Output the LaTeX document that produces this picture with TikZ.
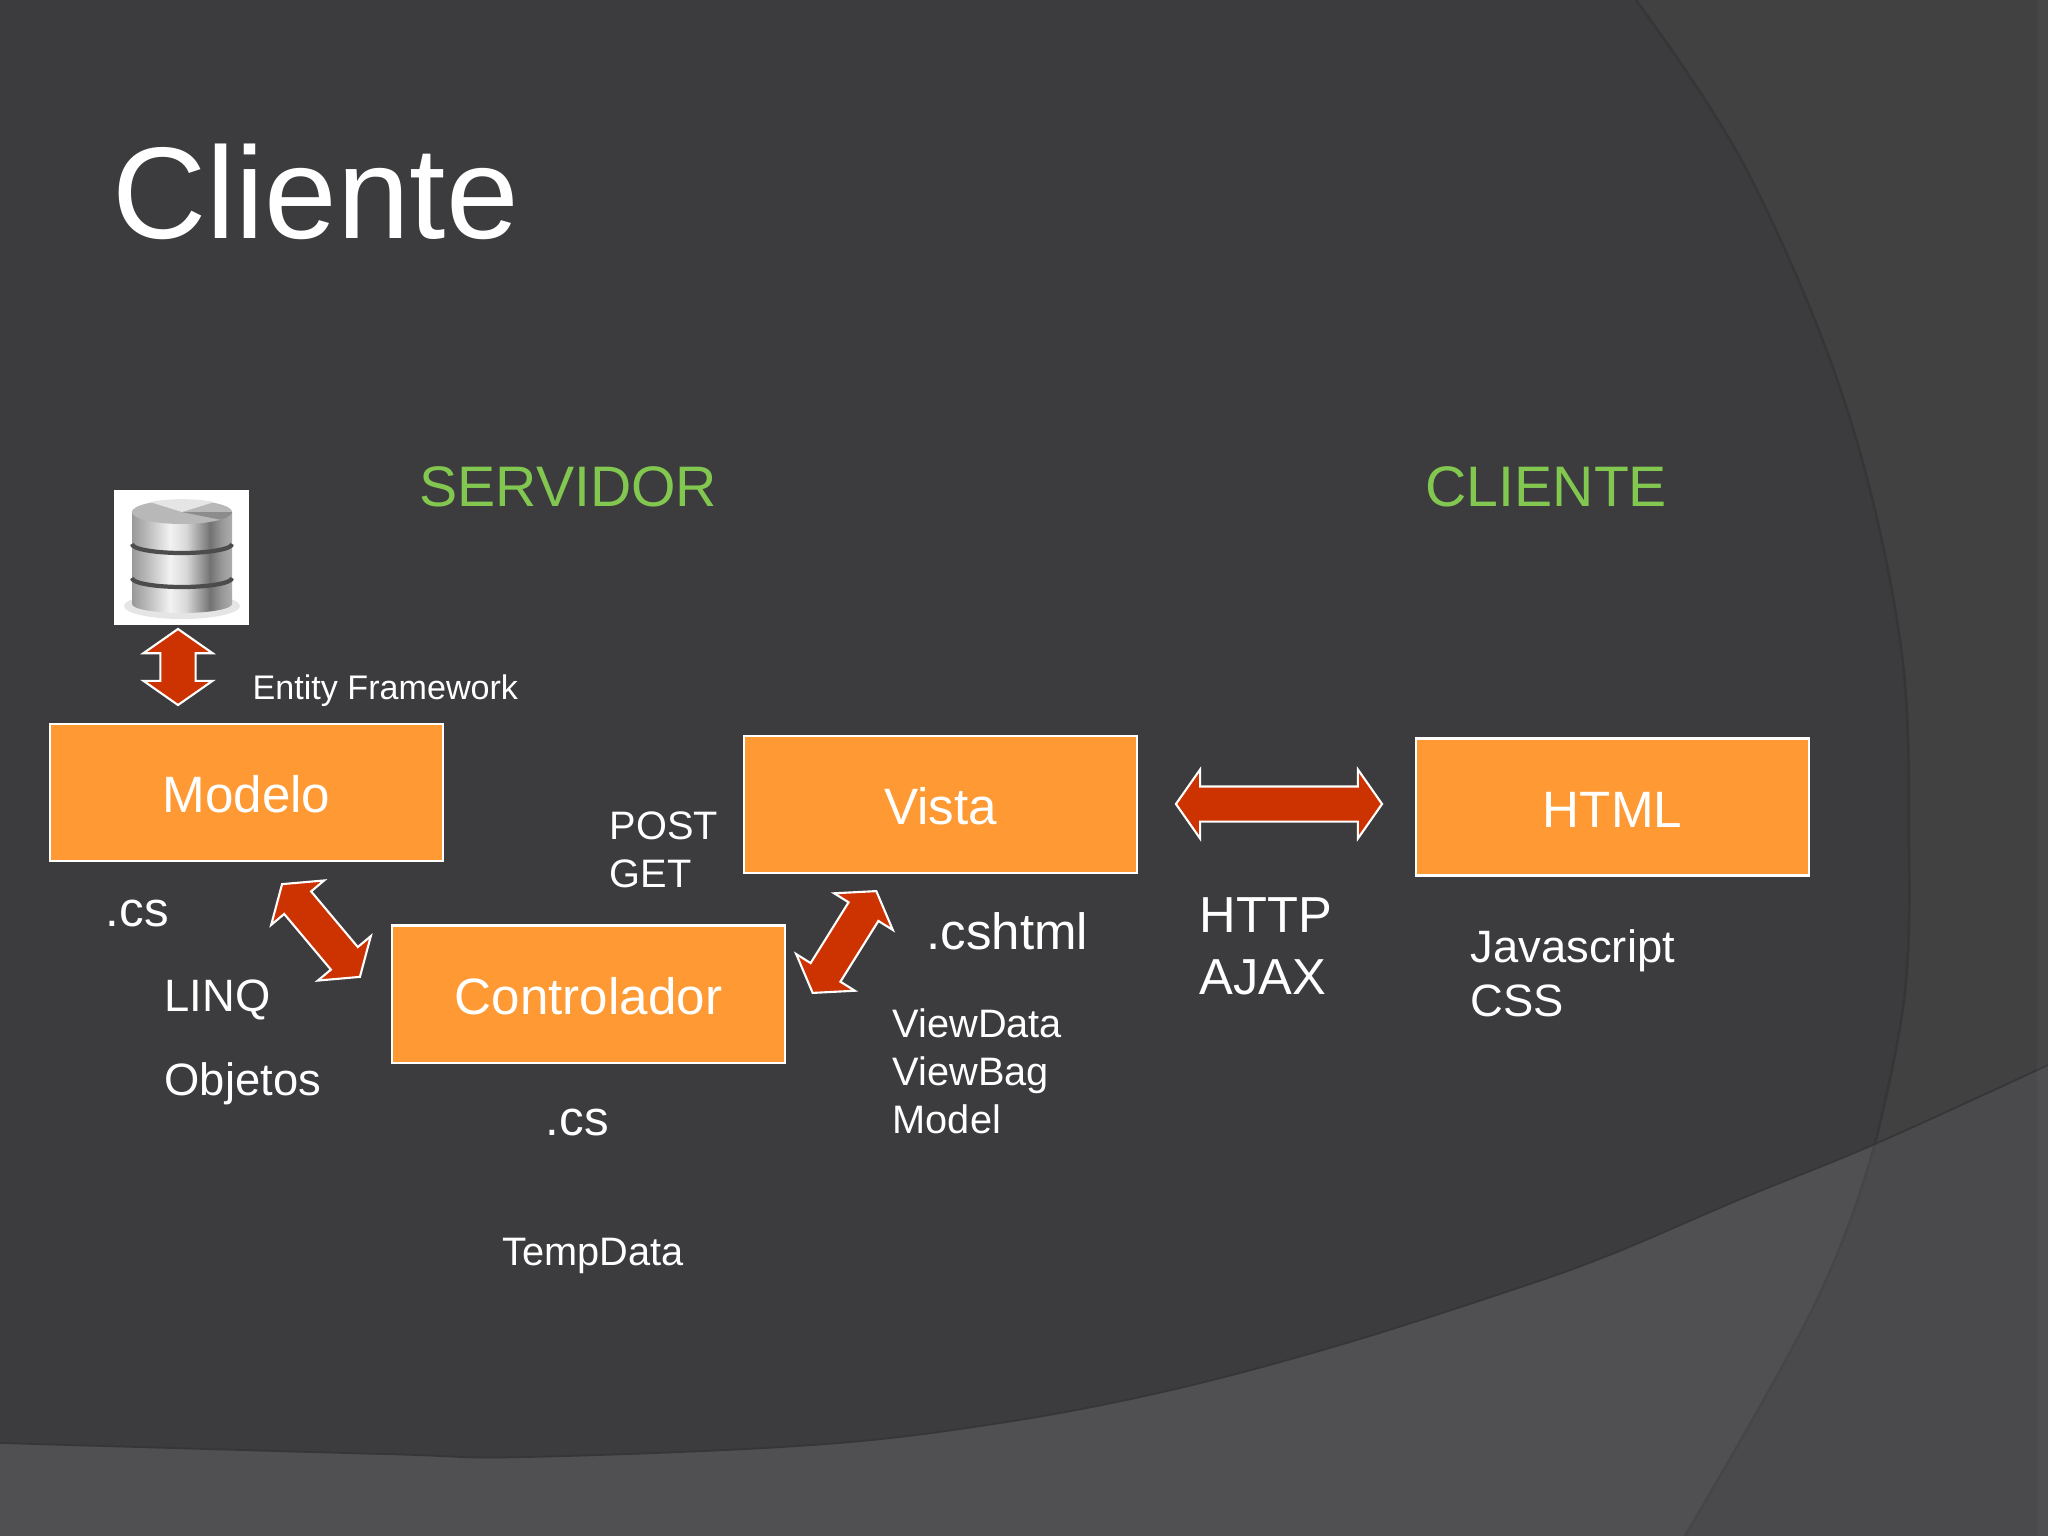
\documentclass[tikz,border=0pt]{standalone}
\usepackage{fontspec}
\setmainfont{Liberation Sans}
\usetikzlibrary{shapes.arrows}

\definecolor{slidebg}{HTML}{414141}
\definecolor{mainbg}{HTML}{3C3B3D}
\definecolor{bandbg}{HTML}{504F51}
\definecolor{cornerbg}{HTML}{4A494B}
\definecolor{edgeline}{HTML}{363537}
\definecolor{bandline}{HTML}{464547}
\definecolor{boxfill}{HTML}{FF9933}
\definecolor{arrowred}{HTML}{CC3300}
\definecolor{headgreen}{HTML}{82C850}

\pgfdeclarehorizontalshading{metal}{100bp}{color(0bp)=(black!40); color(25bp)=(black!40);
  color(32bp)=(black!28); color(44bp)=(black!5); color(52bp)=(black!15);
  color(64bp)=(black!55); color(70bp)=(black!40); color(75bp)=(black!32); color(100bp)=(black!32)}

\tikzset{
  boxnode/.style={draw=white, fill=boxfill, line width=0.6pt, minimum width=3.93cm,
    minimum height=1.37cm, text=white, text height=0.40cm, text depth=0pt,
    font=\fontsize{14.55}{17}\selectfont},
  blockarrow/.style={double arrow, draw=white, fill=arrowred, line width=0.6pt,
    inner xsep=0pt, inner ysep=0.165cm, double arrow head extend=0.17cm,
    double arrow tip angle=110},
  lbl/.style={anchor=base west, inner sep=0pt, text=white, align=left},
  headlbl/.style={lbl, text=headgreen, font=\fontsize{16.25}{19}\selectfont},
}

\begin{document}
\begin{tikzpicture}[x=0.01cm, y=-0.01cm]
  \useasboundingbox (0,0) rectangle (2048,1536);

  % slide background
  \def\arcpts{(1636,0) (1745,167) (1844,400) (1900,640) (1909,850) (1904,1000) (1875,1144) (1813,1308) (1685,1536)}
  \def\bandpts{(0,1443) (383,1454) (526,1457) (813,1445) (1000,1423) (1167,1391) (1333,1347) (1500,1294) (1607,1256) (1743,1198) (1875,1144) (2048,1065)}
  \fill[slidebg] (0,0) rectangle (2048,1536);
  \fill[mainbg] (0,0) -- plot[smooth, tension=0.6] coordinates {\arcpts} -- (0,1536) -- cycle;
  \begin{scope}
    \clip plot[smooth, tension=0.6] coordinates {\bandpts} -- (2048,1536) -- (0,1536) -- cycle;
    \fill[cornerbg] (0,1000) rectangle (2048,1536);
    \fill[bandbg] (0,0) -- plot[smooth, tension=0.6] coordinates {\arcpts} -- (0,1536) -- cycle;
    \draw[bandline, line width=0.7pt] plot[smooth, tension=0.6] coordinates {\arcpts};
  \end{scope}
  \draw[edgeline, line width=0.7pt] plot[smooth, tension=0.6] coordinates {(1636,0) (1745,167) (1844,400) (1900,640) (1909,850) (1904,1000) (1875,1144)};
  \draw[edgeline, line width=0.5pt] plot[smooth, tension=0.6] coordinates {\bandpts};
  \fill[white, opacity=0.03] (2037,0) rectangle (2048,1536);

  % title and side headings
  \node[lbl, font=\fontsize{37.1}{44}\selectfont] (title) at (112,238) {Cliente};
  \node[headlbl] (servidor) at (419,506) {SERVIDOR};
  \node[headlbl] (cliente) at (1425,506) {CLIENTE};

  % database picture
  \node[fill=white, minimum width=1.35cm, minimum height=1.35cm, inner sep=0pt] (dbicon) at (181.5,557.5) {};
  \fill[black!20, opacity=0.5] (182,606) ellipse (58 and 13);
  \foreach \ytop/\ybot in {578/604, 544/578, 512/544} {
    \shade[shading=metal] (132,\ytop) -- (132,\ybot) arc[start angle=180, end angle=360, x radius=50, y radius=-9]
      -- (232,\ytop) arc[start angle=0, end angle=180, x radius=50, y radius=-9] -- cycle;
  }
  \foreach \ygroove in {544, 578} {
    \draw[black!70, line width=1.2pt] (132,\ygroove) arc[start angle=180, end angle=360, x radius=50, y radius=-9];
  }
  \fill[black!28] (182,512) ellipse (50 and 12);
  \fill[black!10] (182,512) -- (150,502) arc[start angle=130, end angle=50, x radius=50, y radius=-12] -- cycle;
  \fill[black!45] (182,512) -- (232,512) arc[start angle=0, end angle=-40, x radius=50, y radius=-12] -- cycle;

  % boxes
  \node[boxnode] (modelo) at (246.5,792.5) {Modelo};
  \node[boxnode] (vista) at (940.5,804.5) {Vista};
  \node[boxnode] (controlador) at (588.5,994) {Controlador};
  \node[boxnode] (html) at (1612.5,807) {HTML};

  % double arrows between the boxes
  \node[blockarrow, minimum height=0.76cm, rotate=90] (dbarrow) at (178,667) {};
  \node[blockarrow, minimum height=1.21cm, rotate=-50] (mcarrow) at (321,930.5) {};
  \node[blockarrow, minimum height=1.20cm, rotate=58] (cvarrow) at (844.5,942) {};
  \node[blockarrow, minimum height=2.06cm] (vharrow) at (1279,804) {};

  % labels
  \node[lbl, font=\fontsize{9.7}{12}\selectfont] (entity) at (252,699) {Entity Framework};
  \node[lbl, font=\fontsize{14}{17}\selectfont] (mcs) at (105,926) {.cs};
  \node[lbl, font=\fontsize{12.9}{16}\selectfont] (linq) at (164,1011) {LINQ};
  \node[lbl, font=\fontsize{12.9}{16}\selectfont] (objetos) at (164,1095) {Objetos};
  \node[lbl, font=\fontsize{11.3}{13.6}\selectfont] (postget) at (609,887) {POST\\GET};
  \node[lbl, font=\fontsize{14.5}{17}\selectfont] (cshtml) at (926,949) {.cshtml};
  \node[lbl, font=\fontsize{14.4}{17.5}\selectfont] (httpajax) at (1199,994) {HTTP\\AJAX};
  \node[lbl, font=\fontsize{12.9}{15.3}\selectfont] (jscss) at (1470,1016) {Javascript\\CSS};
  \node[lbl, font=\fontsize{11.3}{13.6}\selectfont] (viewdata) at (892,1133) {ViewData\\ViewBag\\Model};
  \node[lbl, font=\fontsize{14}{17}\selectfont] (ccs) at (545,1135) {.cs};
  \node[lbl, font=\fontsize{11.3}{13.6}\selectfont] (tempdata) at (502,1265) {TempData};
\end{tikzpicture}
\end{document}
